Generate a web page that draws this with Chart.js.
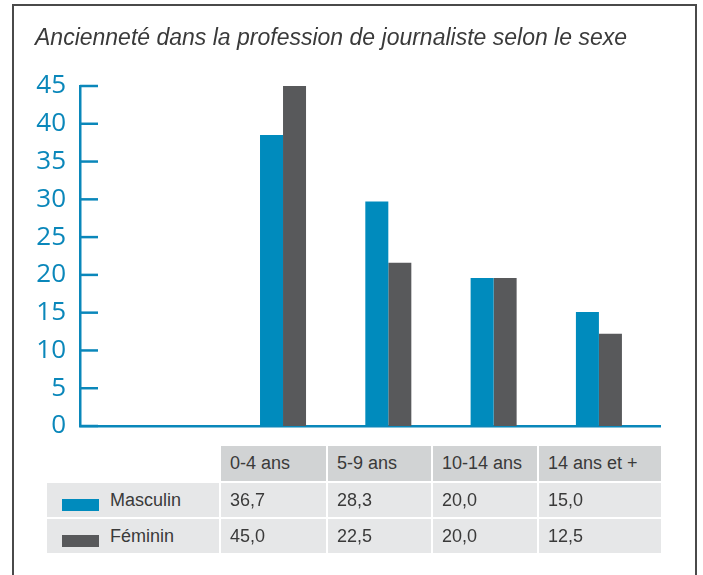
<!DOCTYPE html>
<html lang="fr">
<head>
<meta charset="utf-8">
<script src="https://cdn.jsdelivr.net/npm/chart.js@4.4.0/dist/chart.umd.min.js"></script>
<style>
  html, body { margin: 0; padding: 0; background: #fff; }
  #wrap { position: relative; width: 703px; height: 575px; overflow: hidden; }
  #frame { position: absolute; left: 12px; top: 4px; width: 685px; height: 620px;
           border: 2px solid #4a4a4a; box-sizing: border-box; }
  #chart { position: absolute; left: 0; top: 0; }
  .cell { position: absolute; box-sizing: border-box; padding-left: 9px;
          font-family: "Liberation Sans", Arial, sans-serif; font-size: 18px; color: #3a3a3a;
          background: #e6e7e8; white-space: nowrap; }
  .head { background: #d1d3d4; }
  .swatch { position: absolute; width: 37px; height: 12px; }
</style>
</head>
<body>
<div id="wrap">
  <div id="frame"></div>
  <canvas id="chart" width="703" height="575"></canvas>
  <div id="table"></div>
</div>
<script>
// Données
const categories = ['0-4 ans', '5-9 ans', '10-14 ans', '14 ans et +'];
const seriesNames = ['Masculin', 'Féminin'];
// hauteurs des barres telles que dessinées
const masculin = [38.5, 29.7, 19.6, 15.1];
const feminin = [45.0, 21.6, 19.6, 12.2];
// valeurs imprimées dans le tableau
const masculinTable = [36.7, 28.3, 20.0, 15.0];
const femininTable = [45.0, 22.5, 20.0, 12.5];
const yTicks = [0, 5, 10, 15, 20, 25, 30, 35, 40, 45];

const BLUE = '#008bbd';
const GREY = '#58595b';
const AXIS = '#0a87ba';

// petits traits de graduation vers l'intérieur
const innerTicks = {
  id: 'innerTicks',
  afterDraw(chart) {
    const ctx = chart.ctx;
    const y = chart.scales.y;
    const left = chart.chartArea.left;
    ctx.save();
    ctx.strokeStyle = AXIS;
    ctx.lineWidth = 2.5;
    y.ticks.forEach(t => {
      const py = y.getPixelForValue(t.value);
      ctx.beginPath();
      ctx.moveTo(left, py);
      ctx.lineTo(left + 18, py);
      ctx.stroke();
    });
    ctx.restore();
  }
};

new Chart(document.getElementById('chart'), {
  type: 'bar',
  data: {
    datasets: [
      {
        label: seriesNames[0],
        data: masculin.map((v, i) => ({ x: i + 1, y: v })),
        backgroundColor: BLUE
      },
      {
        label: seriesNames[1],
        data: feminin.map((v, i) => ({ x: i + 1, y: v })),
        backgroundColor: GREY
      }
    ]
  },
  options: {
    responsive: false,
    animation: false,
    categoryPercentage: 0.437,
    barPercentage: 1,
    layout: { padding: { left: 35, right: 43, top: 0, bottom: 149 } },
    plugins: {
      legend: { display: false },
      tooltip: { enabled: false },
      title: {
        display: true,
        text: 'Ancienneté dans la profession de journaliste selon le sexe',
        align: 'start',
        color: '#3a3a3a',
        font: { family: 'Liberation Sans', style: 'italic', weight: 'normal', size: 23, lineHeight: 1.2 },
        padding: { top: 25, bottom: 33.4 }
      }
    },
    scales: {
      x: {
        type: 'linear',
        offset: false,
        min: -0.928,
        max: 4.58,
        afterBuildTicks: s => { s.ticks = categories.map((c, i) => ({ value: i + 1 })); },
        ticks: { display: false },
        grid: { display: false, drawTicks: false },
        border: { color: AXIS, width: 2.5 },
        afterFit: s => { s.height = 0; }
      },
      y: {
        min: 0,
        max: 45,
        afterBuildTicks: s => { s.ticks = yTicks.map(v => ({ value: v })); },
        ticks: { color: AXIS, padding: 14, font: { family: 'Open Sans', size: 26 } },
        grid: { display: false, drawTicks: false },
        border: { color: AXIS, width: 2.5 },
        afterFit: s => { s.width = 45; }
      }
    }
  },
  plugins: [innerTicks]
});

// Tableau de données sous le graphique
const colEdges = [47, 221, 328, 433, 539, 663];
const rowEdges = [446, 483, 519, 555];
const table = document.getElementById('table');
const fmt = v => v.toFixed(1).replace('.', ',');

function addCell(col, row, html, cls) {
  const d = document.createElement('div');
  d.className = 'cell' + (cls ? ' ' + cls : '');
  const h = rowEdges[row + 1] - rowEdges[row] - 2;
  d.style.left = colEdges[col] + 'px';
  d.style.top = rowEdges[row] + 'px';
  d.style.width = (colEdges[col + 1] - colEdges[col] - 2) + 'px';
  d.style.height = h + 'px';
  d.style.lineHeight = h + 'px';
  d.innerHTML = html;
  table.appendChild(d);
  return d;
}

categories.forEach((c, i) => addCell(i + 1, 0, c, 'head'));
[[masculinTable, BLUE], [femininTable, GREY]].forEach(([vals, color], r) => {
  const lg = addCell(0, r + 1, seriesNames[r]);
  lg.style.paddingLeft = '63px';
  const sw = document.createElement('span');
  sw.className = 'swatch';
  sw.style.background = color;
  sw.style.left = '15px';
  sw.style.top = '16px';
  lg.appendChild(sw);
  vals.forEach((v, i) => addCell(i + 1, r + 1, fmt(v)));
});
</script>
</body>
</html>
